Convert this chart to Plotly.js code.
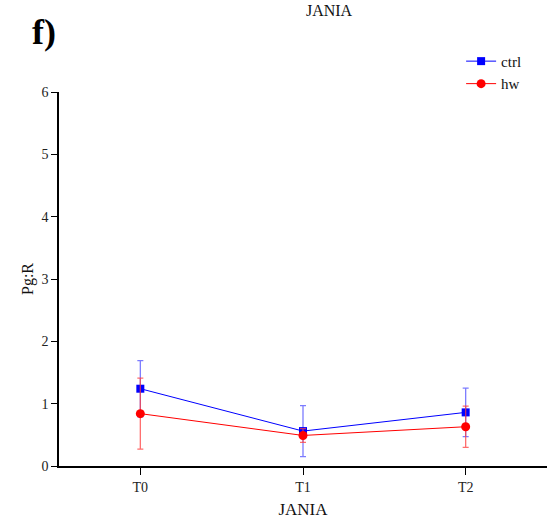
<!DOCTYPE html>
<html><head><meta charset="utf-8">
<script src="https://cdn.plot.ly/plotly-3.0.1.min.js"></script>
<style>body{margin:0;background:#fff}#chart{width:553px;height:525px}</style>
</head><body><div id="chart"></div>
<script>
const categories = ["T0", "T1", "T2"];
const ctrlValues = [1.24, 0.56, 0.86];
const ctrlErrors = [0.45, 0.41, 0.39];
const hwValues = [0.84, 0.49, 0.63];
const hwErrors = [0.57, 0.11, 0.33];
const yTicks = [0, 1, 2, 3, 4, 5, 6];

const font = "Liberation Serif, serif";
const traces = [
  {x: categories, y: ctrlValues, name: "ctrl", type: "scatter", mode: "lines+markers",
   line: {color: "#0000ff", width: 1}, marker: {symbol: "square", size: 8, color: "#0000ff"},
   error_y: {type: "data", array: ctrlErrors, visible: true, color: "rgba(80,80,255,0.75)", thickness: 1.3, width: 3}},
  {x: categories, y: hwValues, name: "hw", type: "scatter", mode: "lines+markers",
   line: {color: "#ff0000", width: 1}, marker: {symbol: "circle", size: 9, color: "#ff0000"},
   error_y: {type: "data", array: hwErrors, visible: true, color: "rgba(255,60,60,0.75)", thickness: 1.3, width: 3}}
];
const layout = {
  width: 553, height: 525,
  margin: {l: 59, r: 6, t: 92, b: 59},
  paper_bgcolor: "#fff", plot_bgcolor: "#fff",
  font: {family: font, color: "#222", size: 14},
  title: {text: "JANIA", font: {family: font, size: 16, color: "#111"}, x: 0.595, xanchor: "center", y: 0.99, yanchor: "top"},
  showlegend: true,
  legend: {x: 0.824, xanchor: "left", y: 1.126, yanchor: "top", font: {family: font, size: 15, color: "#111"},
           bgcolor: "rgba(0,0,0,0)", tracegroupgap: 0, itemwidth: 30},
  xaxis: {type: "category", range: [-0.5, 2.5], showline: true, linecolor: "#000", linewidth: 1.5,
          ticks: "outside", ticklen: 7, tickcolor: "#000", showgrid: false, zeroline: false,
          tickfont: {family: font, size: 14, color: "#222"},
          title: {text: "JANIA", font: {family: font, size: 17, color: "#111"}, standoff: 10}},
  yaxis: {range: [0, 6], tickvals: yTicks, showline: true, linecolor: "#000", linewidth: 1.5,
          ticks: "outside", ticklen: 6, tickcolor: "#000", showgrid: false, zeroline: false,
          tickfont: {family: font, size: 14, color: "#222"},
          title: {text: "Pg:R", font: {family: font, size: 16, color: "#111"}, standoff: 4}},
  annotations: [{text: "<b>f)</b>", xref: "paper", yref: "paper", x: -0.06, y: 1.16, xanchor: "left", yanchor: "middle",
                 showarrow: false, font: {family: font, size: 36, color: "#000"}}]
};
Plotly.newPlot("chart", traces, layout, {displayModeBar: false});
</script></body></html>
